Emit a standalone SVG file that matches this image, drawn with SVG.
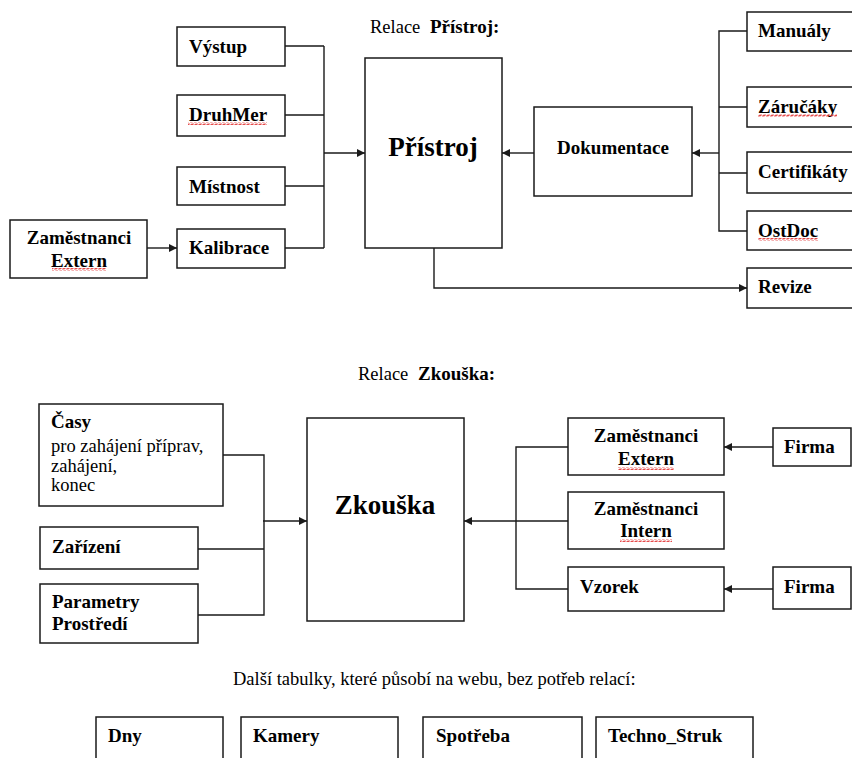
<svg xmlns="http://www.w3.org/2000/svg" width="852" height="758" viewBox="0 0 852 758">
<style>
.box{fill:#fff;stroke:#1a1a1a;stroke-width:1.5}
.ln{fill:none;stroke:#1a1a1a;stroke-width:1.4}
.t{font-family:"Liberation Serif","Times New Roman",serif;font-size:19px;font-weight:bold;fill:#000}
.r{font-family:"Liberation Serif","Times New Roman",serif;font-size:18.5px;fill:#000}
.big{font-family:"Liberation Serif","Times New Roman",serif;font-size:27px;font-weight:bold;fill:#000}
.sq{fill:url(#squig)}
</style>
<defs>
<marker id="arr" viewBox="0 0 10 10" refX="10" refY="5" markerWidth="9" markerHeight="8" markerUnits="userSpaceOnUse" orient="auto">
<path d="M0,0 L10,5 L0,10 z" fill="#1a1a1a"/>
</marker>
<pattern id="squig" width="4" height="3" patternUnits="userSpaceOnUse">
<path d="M0,2.5 L1,0.5 L3,2.5 L4,0.5" fill="none" stroke="#e02020" stroke-width="0.8"/>
</pattern>
</defs>

<text class="r" x="370" y="33">Relace <tspan class="t" x="430">Přístroj:</tspan></text>
<text class="r" x="358" y="380">Relace <tspan class="t" x="418">Zkouška:</tspan></text>
<text class="r" x="233" y="685">Další tabulky, které působí na webu, bez potřeb relací:</text>

<g id="connectors">
<path class="ln" d="M285,46 H324 M285,115 H324 M285,186 H324 M285,248 H324 M324,46 V248"/>
<path class="ln" d="M324,153 H365" marker-end="url(#arr)"/>
<path class="ln" d="M147,248 H177" marker-end="url(#arr)"/>
<path class="ln" d="M534,153 H502" marker-end="url(#arr)"/>
<path class="ln" d="M747,31 H719 V231 H747 M719,107 H747 M719,173 H747"/>
<path class="ln" d="M719,153 H692" marker-end="url(#arr)"/>
<path class="ln" d="M434,248 V288 H747" marker-end="url(#arr)"/>
<path class="ln" d="M223,455 H264 V615 H198 M198,549 H264"/>
<path class="ln" d="M263,521 H307" marker-end="url(#arr)"/>
<path class="ln" d="M568,447 H516 V589 H568"/>
<path class="ln" d="M568,521 H464" marker-end="url(#arr)"/>
<path class="ln" d="M773,447 H724" marker-end="url(#arr)"/>
<path class="ln" d="M773,589 H724" marker-end="url(#arr)"/>
</g>

<g id="vystup"><rect class="box" x="177" y="27" width="108" height="39"/><text class="t" x="189" y="53">Výstup</text></g>
<g id="druhmer"><rect class="box" x="177" y="95" width="108" height="41"/><text class="t" x="189" y="121">DruhMer</text><rect class="sq" x="188" y="122" width="79" height="3"/></g>
<g id="mistnost"><rect class="box" x="177" y="167" width="108" height="38"/><text class="t" x="189" y="193">Místnost</text></g>
<g id="kalibrace"><rect class="box" x="177" y="229" width="108" height="39"/><text class="t" x="189" y="254">Kalibrace</text></g>
<g id="zamestnanci-extern-1"><rect class="box" x="10" y="220" width="137" height="58"/><text class="t" x="79" y="244" text-anchor="middle">Zaměstnanci</text><text class="t" x="79" y="267" text-anchor="middle">Extern</text><rect class="sq" x="52" y="268" width="54" height="3"/></g>
<g id="pristroj"><rect class="box" x="365" y="58" width="137" height="190"/><text class="big" x="433" y="156" text-anchor="middle">Přístroj</text></g>
<g id="dokumentace"><rect class="box" x="534" y="107" width="158" height="89"/><text class="t" x="613" y="154" text-anchor="middle">Dokumentace</text></g>
<g id="manualy"><rect class="box" x="747" y="12" width="120" height="39"/><text class="t" x="758" y="37">Manuály</text></g>
<g id="zarucaky"><rect class="box" x="747" y="87" width="120" height="40"/><text class="t" x="758" y="113">Záručáky</text><rect class="sq" x="758" y="114" width="79" height="3"/></g>
<g id="certifikaty"><rect class="box" x="747" y="152" width="120" height="41"/><text class="t" x="758" y="178">Certifikáty</text></g>
<g id="ostdoc"><rect class="box" x="747" y="211" width="120" height="39"/><text class="t" x="758" y="237">OstDoc</text><rect class="sq" x="758" y="238" width="60" height="3"/></g>
<g id="revize"><rect class="box" x="747" y="268" width="120" height="40"/><text class="t" x="758" y="293">Revize</text></g>

<g id="casy"><rect class="box" x="39" y="404" width="184" height="102"/><text class="t" x="51" y="428">Časy</text><text class="r" x="51" y="452">pro zahájení příprav,</text><text class="r" x="51" y="472">zahájení,</text><text class="r" x="51" y="491">konec</text></g>
<g id="zarizeni"><rect class="box" x="40" y="527" width="158" height="42"/><text class="t" x="52" y="553">Zařízení</text></g>
<g id="parametry"><rect class="box" x="40" y="584" width="158" height="59"/><text class="t" x="52" y="608">Parametry</text><text class="t" x="52" y="630">Prostředí</text></g>
<g id="zkouska"><rect class="box" x="307" y="418" width="157" height="203"/><text class="big" x="385" y="514" text-anchor="middle">Zkouška</text></g>
<g id="zamestnanci-extern-2"><rect class="box" x="568" y="418" width="156" height="57"/><text class="t" x="646" y="442" text-anchor="middle">Zaměstnanci</text><text class="t" x="646" y="465" text-anchor="middle">Extern</text><rect class="sq" x="618" y="467" width="56" height="3"/></g>
<g id="zamestnanci-intern"><rect class="box" x="568" y="492" width="156" height="57"/><text class="t" x="646" y="515" text-anchor="middle">Zaměstnanci</text><text class="t" x="646" y="537" text-anchor="middle">Intern</text><rect class="sq" x="620" y="539" width="52" height="3"/></g>
<g id="vzorek"><rect class="box" x="568" y="567" width="156" height="44"/><text class="t" x="580" y="593">Vzorek</text></g>
<g id="firma-1"><rect class="box" x="773" y="428" width="78" height="38"/><text class="t" x="784" y="453">Firma</text></g>
<g id="firma-2"><rect class="box" x="773" y="567" width="78" height="42"/><text class="t" x="784" y="593">Firma</text></g>

<g id="dny"><rect class="box" x="96" y="717" width="127" height="60"/><text class="t" x="108" y="742">Dny</text></g>
<g id="kamery"><rect class="box" x="241" y="717" width="157" height="60"/><text class="t" x="253" y="742">Kamery</text></g>
<g id="spotreba"><rect class="box" x="423" y="717" width="159" height="60"/><text class="t" x="436" y="742">Spotřeba</text></g>
<g id="techno-struk"><rect class="box" x="596" y="717" width="157" height="60"/><text class="t" x="608" y="742">Techno_Struk</text></g>
</svg>
